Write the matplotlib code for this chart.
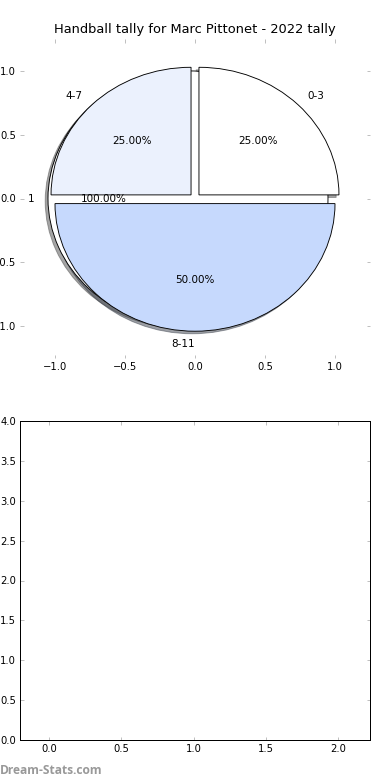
import matplotlib
matplotlib.use("Agg")
import matplotlib.pyplot as plt

# data
title = "Handball tally for Marc Pittonet - 2022 tally"
base_labels = ["1"]
base_values = [1]
labels = ["0-3", "4-7", "8-11"]
values = [1, 1, 2]
colors = ["#ffffff", "#ebf1fd", "#c6d9fd"]
pie_ticks = [-1.0, -0.5, 0.0, 0.5, 1.0]
bottom_xticks = [0.0, 0.5, 1.0, 1.5, 2.0]
bottom_yticks = [0.0, 0.5, 1.0, 1.5, 2.0, 2.5, 3.0, 3.5, 4.0]

DPI = 72
fig = plt.figure(figsize=(390/DPI, 780/DPI), dpi=DPI)
ax1 = fig.add_axes([20/390, 1-358/780, 350/390, 319/780])
ax2 = fig.add_axes([20/390, 1-740/780, 350/390, 319/780])

wp = dict(edgecolor="black", linewidth=0.9)
ax1.pie(base_values, labels=base_labels, autopct="%.2f%%", explode=[0.05],
        shadow=True, colors=["white"], wedgeprops=wp,
        textprops=dict(fontsize=10.4), frame=True)
wedges, texts, autotexts = ax1.pie(values, labels=labels, autopct="%.2f%%",
        explode=[0.04, 0.04, 0.04], shadow=True, colors=colors,
        wedgeprops=wp, textprops=dict(fontsize=10.4), frame=True)
texts[2].set_horizontalalignment("right")
ax1.set_aspect("auto")
ax1.set_xlim(-1.25, 1.25)
ax1.set_ylim(-1.25, 1.25)
ax1.set_xticks(pie_ticks)
ax1.set_yticks(pie_ticks)
ax1.set_frame_on(False)
ax1.set_title(title, fontsize=13)

ax2.set_xlim(-0.2, 2.22)
ax2.set_ylim(0, 4)
ax2.set_xticks(bottom_xticks)
ax2.set_yticks(bottom_yticks)
for sp in ax2.spines.values():
    sp.set_linewidth(1.0)
    sp.set_color("black")

for ax in (ax1, ax2):
    ax.tick_params(direction="in", length=3.5, width=1, color="#c0c0c0",
                   labelsize=10, top=True, right=True, pad=4)

fig.text(0.0, 1-770/780, "Dream-Stats.com", fontsize=12, color="#999999",
         fontweight="bold", va="center", ha="left", family="Open Sans")

fig.savefig("out.png", dpi=DPI)
